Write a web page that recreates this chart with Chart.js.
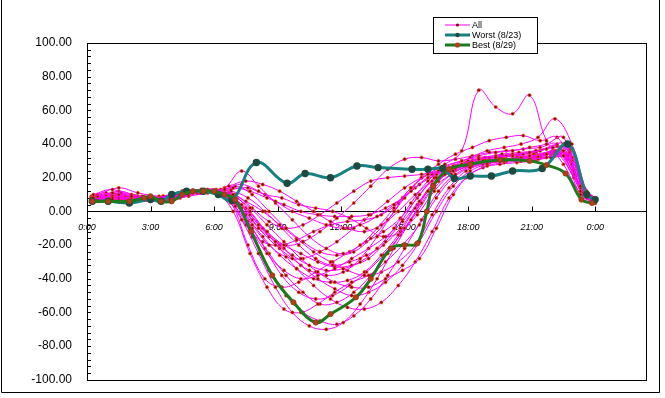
<!DOCTYPE html>
<html>
<head>
<meta charset="utf-8">
<script src="https://cdn.jsdelivr.net/npm/chart.js@4"></script>
<style>
  html, body { margin: 0; padding: 0; background: #fff; overflow: hidden; }
  #wrap { width: 665px; height: 398px; overflow: hidden; }
</style>
</head>
<body>
<div id="wrap"><canvas id="myChart" width="665" height="402"></canvas></div>
<script>
// time grids (hours after midnight) used by the "All" days
const T_A = [0.3, 1.2, 2.1, 3.0, 3.9, 4.8, 5.7, 6.5, 7.3, 8.1, 8.9, 9.7, 10.5, 11.3, 12.1, 12.9, 13.7, 14.5, 15.3, 16.1, 16.9, 17.7, 18.5, 19.3, 20.1, 20.9, 21.7, 22.5, 23.3, 24.0];
const T_B = [0.5, 1.5, 2.4, 3.4, 4.3, 5.2, 6.1, 6.9, 7.7, 8.5, 9.3, 10.1, 10.9, 11.7, 12.5, 13.3, 14.1, 14.9, 15.7, 16.5, 17.3, 18.1, 18.9, 19.7, 20.5, 21.3, 22.1, 22.9, 23.6, 24.0];
const T_C = [0.2, 0.9, 1.8, 2.7, 3.6, 4.5, 5.4, 6.3, 7.0, 7.8, 8.6, 9.4, 10.2, 11.0, 11.8, 12.6, 13.4, 14.2, 15.0, 15.8, 16.6, 17.4, 18.2, 19.0, 19.8, 20.6, 21.4, 22.2, 23.0, 23.8];
const T_D = [0.4, 1.3, 2.3, 3.2, 4.1, 5.0, 5.9, 6.7, 7.5, 8.3, 9.1, 9.9, 10.7, 11.5, 12.3, 13.1, 13.9, 14.7, 15.5, 16.3, 17.1, 17.9, 18.7, 19.5, 20.3, 21.1, 21.9, 22.7, 23.4, 24.0];
const T_E = [0.6, 1.6, 2.6, 3.5, 4.4, 5.3, 6.0, 6.8, 7.6, 8.4, 9.2, 10.0, 10.8, 11.6, 12.4, 13.2, 14.0, 14.8, 15.6, 16.4, 17.2, 18.0, 18.8, 19.6, 20.4, 21.2, 22.0, 22.8, 23.5, 24.0];

// "All" days, values per time grid
const A1 = [8, 7, 6, 7, 8, 11, 12, 9, -5, -25, -45, -60, -68, -70, -66, -55, -40, -22, -5, 12, 22, 28, 31, 32, 33, 33, 34, 36, 12, 6];
const A2 = [10, 13, 9, 8, 7, 10, 12, 11, 4, -8, -18, -26, -32, -35, -34, -30, -22, -10, 5, 18, 26, 30, 32, 33, 34, 35, 37, 40, 15, 8];
const A3 = [6, 8, 7, 6, 7, 9, 11, 13, 16, 12, 6, 0, -4, -8, -10, -8, -3, 4, 12, 20, 25, 28, 29, 30, 31, 31, 32, 33, 10, 5];
const A4 = [9, 11, 10, 8, 9, 12, 13, 10, 2, -10, -20, -28, -35, -38, -36, -28, -15, 0, 14, 22, 28, 36, 72, 62, 58, 69, 42, 28, 11, 6];
const A5 = [7, 9, 8, 8, 8, 11, 12, 14, 24, 15, 5, -5, -15, -22, -25, -20, -10, 2, 14, 22, 27, 30, 33, 35, 36, 38, 40, 44, 14, 7];

const B1 = [9, 8, 7, 7, 10, 12, 11, 0, -25, -45, -58, -60, -55, -48, -42, -38, -30, -20, -8, 8, 20, 26, 29, 31, 32, 33, 35, 30, 9, 6];
const B2 = [7, 10, 8, 7, 9, 12, 12, 8, -2, -12, -22, -32, -40, -46, -50, -48, -42, -32, -18, 0, 15, 24, 28, 30, 31, 32, 34, 28, 8, 5];
const B3 = [6, 7, 6, 7, 10, 11, 12, 14, 12, 8, 4, 0, -2, -3, -3, -2, 2, 8, 16, 22, 26, 28, 30, 31, 32, 33, 34, 30, 10, 7];
const B4 = [8, 12, 9, 8, 10, 12, 13, 6, -10, -25, -35, -40, -38, -34, -28, -22, -15, -6, 6, 18, 24, 27, 29, 30, 31, 33, 36, 32, 11, 6];
const B5 = [10, 14, 11, 9, 9, 11, 12, 10, 0, -12, -20, -25, -30, -33, -32, -28, -18, -5, 10, 20, 27, 32, 36, 38, 40, 44, 55, 40, 12, 7];
const B6 = [7, 8, 7, 6, 8, 11, 12, 9, 2, -8, -18, -28, -36, -42, -45, -45, -40, -35, -28, -10, 10, 22, 27, 29, 30, 31, 33, 30, 9, 5];

const C1 = [7, 9, 8, 7, 8, 11, 12, 11, 5, -10, -25, -38, -48, -55, -54, -48, -38, -25, -10, 5, 18, 25, 29, 30, 31, 32, 33, 36, 22, 6];
const C2 = [8, 10, 9, 8, 9, 12, 13, 12, 8, -5, -15, -20, -18, -12, -4, 5, 15, 25, 31, 32, 30, 31, 33, 35, 36, 37, 38, 40, 24, 8];
const C3 = [6, 8, 7, 7, 8, 10, 11, 12, 6, -8, -20, -27, -28, -24, -18, -10, -2, 6, 14, 20, 24, 26, 28, 29, 30, 31, 33, 36, 20, 6];
const C4 = [9, 11, 8, 7, 8, 11, 12, 13, 10, 2, -6, -10, -8, -2, 5, 12, 18, 20, 21, 22, 24, 27, 30, 32, 33, 34, 36, 39, 22, 7];
const C5 = [6, 7, 7, 8, 9, 12, 12, 10, 3, -15, -35, -50, -60, -65, -67, -62, -52, -38, -22, -5, 12, 22, 27, 29, 30, 31, 32, 34, 20, 5];
const C6 = [8, 9, 8, 7, 9, 11, 13, 12, 15, 10, 0, -10, -18, -24, -26, -24, -16, -5, 8, 20, 28, 34, 38, 42, 44, 45, 42, 44, 25, 9];

const D1 = [8, 9, 8, 7, 9, 11, 12, 10, -2, -15, -26, -34, -40, -42, -41, -36, -26, -14, 2, 16, 24, 28, 30, 31, 32, 33, 35, 33, 10, 6];
const D2 = [7, 8, 7, 8, 9, 11, 12, 8, -8, -18, -20, -17, -12, -8, -6, -5, -2, 5, 14, 22, 26, 29, 31, 32, 33, 34, 35, 33, 11, 7];
const D3 = [9, 10, 9, 7, 8, 12, 12, 9, 2, -10, -22, -34, -44, -52, -57, -58, -54, -44, -30, -12, 8, 20, 26, 28, 29, 30, 32, 31, 10, 6];
const D4 = [6, 8, 7, 7, 9, 11, 12, 15, 18, 16, 12, 6, 0, -6, -10, -12, -8, 0, 10, 18, 24, 27, 29, 30, 31, 32, 34, 33, 12, 8];
const D5 = [8, 10, 8, 7, 8, 11, 12, 11, 6, 0, -8, -16, -24, -30, -35, -38, -36, -30, -20, -2, 14, 24, 28, 30, 31, 32, 34, 34, 11, 6];

const E1 = [8, 9, 8, 7, 9, 12, 12, 5, -20, -40, -45, -42, -36, -30, -24, -18, -12, -4, 8, 20, 26, 30, 32, 34, 35, 36, 38, 35, 10, 6];
const E2 = [7, 11, 9, 8, 9, 11, 12, 12, 8, 0, -10, -20, -28, -32, -30, -26, -20, -10, 4, 16, 24, 28, 31, 33, 34, 35, 38, 36, 12, 7];
const E3 = [9, 10, 8, 7, 8, 11, 12, 9, -6, -22, -38, -48, -52, -50, -44, -36, -26, -14, 0, 14, 22, 27, 30, 31, 32, 33, 36, 34, 10, 6];
const E4 = [6, 8, 7, 7, 9, 11, 12, 13, 14, 10, 8, 4, 2, 0, -4, -10, -15, -12, -2, 12, 22, 27, 30, 32, 34, 36, 38, 37, 13, 8];

const ALL_DAYS = [
  [T_A, A1], [T_A, A2], [T_A, A3], [T_A, A4], [T_A, A5],
  [T_B, B1], [T_B, B2], [T_B, B3], [T_B, B4], [T_B, B5], [T_B, B6],
  [T_C, C1], [T_C, C2], [T_C, C3], [T_C, C4], [T_C, C5], [T_C, C6],
  [T_D, D1], [T_D, D2], [T_D, D3], [T_D, D4], [T_D, D5],
  [T_E, E1], [T_E, E2], [T_E, E3], [T_E, E4]
];

// Worst (8/23)
const WORST_T = [0.25, 1, 2, 3, 3.5, 4, 4.7, 5.5, 6.2, 6.85, 8.0, 9.45, 10.3, 11.5, 12.75, 13.75, 15.35, 16.1, 16.8, 17.35, 18.1, 19.1, 20.1, 21.5, 22.7, 23.6, 24.0];
const WORST_V = [6, 6, 5, 7, 6, 10, 12, 12, 10, 6.5, 29, 16.7, 22.5, 20, 27, 26, 25, 25, 25.5, 19.5, 21, 21, 24, 25.5, 40, 10, 7];

// Best (8/29)
const BEST_T = [0.25, 1, 2, 2.7, 3, 3.5, 4, 4.5, 5, 5.5, 6, 6.5, 7.0, 7.75, 8.75, 9.75, 10.8, 11.5, 12.7, 13.4, 14.35, 15.0, 15.6, 16.05, 16.35, 17.1, 18.1, 19.5, 20.9, 21.7, 22.6, 23.35, 23.85];
const BEST_V = [6, 6, 6, 8, 9, 6, 6, 10, 12, 12, 12, 10, 7, -12, -38, -54, -66, -61, -51, -40, -22, -20, -19, 0, 15, 25, 28, 30.5, 30, 27.5, 22.5, 7, 5];

const X_MAX = 26.4;
const Y_TICKS = [-100, 100, 20];

function pts(ts, vs) {
  return ts.map((t, i) => ({ x: t, y: vs[i] }));
}

const datasets = ALL_DAYS.map(([ts, vs], i) => ({
  label: i === 0 ? 'All' : '',
  data: pts(ts, vs),
  borderColor: '#ff00ff',
  borderWidth: 1,
  pointRadius: 1.6,
  pointBackgroundColor: '#8b0000',
  pointBorderColor: '#ff5a1e',
  pointBorderWidth: 0.6,
  tension: 0.4,
  order: 2
}));

datasets.push({
  label: 'Worst (8/23)',
  data: pts(WORST_T, WORST_V),
  borderColor: '#178080',
  borderWidth: 3,
  pointRadius: 2.2,
  pointBackgroundColor: '#1f4a40',
  pointBorderColor: '#1f4a40',
  tension: 0.4,
  order: 1
});

datasets.push({
  label: 'Best (8/29)',
  data: pts(BEST_T, BEST_V),
  borderColor: '#1b7a1b',
  borderWidth: 3,
  pointRadius: 2.6,
  pointBackgroundColor: '#b0401c',
  pointBorderColor: '#8a3a12',
  pointBorderWidth: 0.8,
  tension: 0.4,
  order: 0
});

// frame, zero line and inside tick marks
const frame = {
  id: 'frame',
  beforeDatasetsDraw(chart) {
    const { ctx, chartArea: a, scales: { x, y } } = chart;
    ctx.save();
    ctx.strokeStyle = '#000';
    ctx.lineWidth = 1;
    // outer chart border
    ctx.beginPath();
    ctx.moveTo(1.5, 0);
    ctx.lineTo(1.5, 392.5);
    ctx.lineTo(659.5, 392.5);
    ctx.lineTo(659.5, 0);
    ctx.stroke();
    ctx.strokeRect(Math.round(a.left) + 0.5, Math.round(a.top) + 0.5, Math.round(a.right - a.left), Math.round(a.bottom - a.top));
    const y0 = Math.round(y.getPixelForValue(0)) + 0.5;
    ctx.beginPath();
    ctx.moveTo(a.left, y0);
    ctx.lineTo(a.right, y0);
    for (let v = Y_TICKS[0]; v <= Y_TICKS[1]; v += 4) {
      const py = Math.round(y.getPixelForValue(v)) + 0.5;
      ctx.moveTo(a.left, py);
      ctx.lineTo(a.left + 4, py);
    }
    x.ticks.forEach(t => {
      const px = Math.round(x.getPixelForValue(t.value)) + 0.5;
      ctx.moveTo(px, y0);
      ctx.lineTo(px, y0 - 5);
    });
    ctx.stroke();
    ctx.restore();
  }
};

// legend box drawn over the plot like the original
const legendBox = {
  id: 'legendBox',
  afterDraw(chart) {
    const ctx = chart.ctx;
    const items = [datasets[0], datasets[datasets.length - 2], datasets[datasets.length - 1]];
    ctx.save();
    ctx.fillStyle = '#fff';
    ctx.fillRect(433, 17, 104, 36);
    ctx.strokeStyle = '#000';
    ctx.lineWidth = 1;
    ctx.strokeRect(433.5, 17.5, 104, 36);
    ctx.font = '9px "Liberation Sans", Arial, sans-serif';
    ctx.textBaseline = 'middle';
    items.forEach((d, i) => {
      const ly = 25 + i * 10;
      ctx.strokeStyle = d.borderColor;
      ctx.lineWidth = d.borderWidth;
      ctx.beginPath();
      ctx.moveTo(445, ly);
      ctx.lineTo(470, ly);
      ctx.stroke();
      ctx.fillStyle = d.pointBackgroundColor;
      ctx.beginPath();
      ctx.arc(457.5, ly, d.pointRadius, 0, Math.PI * 2);
      ctx.fill();
      ctx.fillStyle = '#000';
      ctx.fillText(d.label, 472, ly + 0.5);
    });
    ctx.restore();
  }
};

const ctx = document.getElementById('myChart').getContext('2d');
const chart = new Chart(ctx, {
  type: 'line',
  data: { datasets: datasets },
  plugins: [frame, legendBox],
  options: {
    responsive: false,
    animation: false,
    layout: { padding: { left: 0, top: 43, right: 19, bottom: 14 } },
    plugins: {
      legend: { display: false },
      tooltip: { enabled: false }
    },
    scales: {
      x: {
        type: 'linear',
        min: 0,
        max: X_MAX,
        position: { y: 0 },
        afterFit: s => { s.height = 0; },
        afterBuildTicks: s => { s.ticks = s.ticks.filter(t => t.value <= 24); },
        grid: { display: false, drawTicks: false },
        border: { display: false },
        ticks: {
          stepSize: 3,
          padding: 11,
          maxRotation: 0,
          autoSkip: false,
          color: '#000',
          font: { family: '"Liberation Sans", Arial, sans-serif', size: 9, style: 'italic' },
          callback: v => (v % 24) + ':00'
        }
      },
      y: {
        min: Y_TICKS[0],
        max: Y_TICKS[1],
        afterFit: s => { s.width = 87; },
        grid: { display: false, drawTicks: false },
        border: { display: false },
        ticks: {
          stepSize: Y_TICKS[2],
          padding: 15,
          color: '#000',
          font: { family: '"Liberation Sans", Arial, sans-serif', size: 12 },
          callback: v => v.toFixed(2)
        }
      }
    }
  }
});
</script>
</body>
</html>
